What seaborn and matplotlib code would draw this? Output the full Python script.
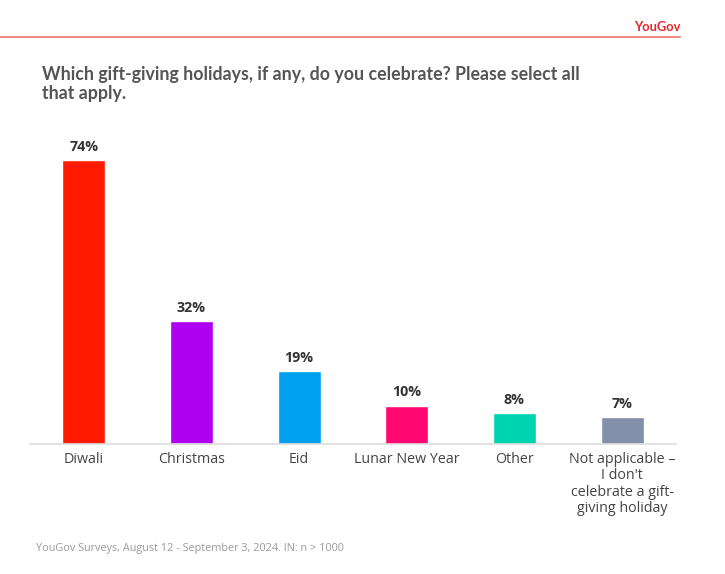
import matplotlib
matplotlib.use("Agg")
import matplotlib.pyplot as plt
import seaborn as sns
import pandas as pd

categories = ["Diwali", "Christmas", "Eid", "Lunar New Year", "Other",
              "Not applicable –\nI don't\ncelebrate a gift-\ngiving holiday"]
values = [74, 32, 19, 10, 8, 7]
colors = ["#FF1A00", "#B000F2", "#00A0F0", "#FF0872", "#00D4AE", "#8290AC"]

sns.set_theme(style="white")
plt.rcParams['font.family'] = ['Open Sans', 'DejaVu Sans']

df = pd.DataFrame({"cat": categories, "val": values})

W, H = 725, 574
fig = plt.figure(figsize=(W / 100, H / 100), dpi=100)
ax = fig.add_axes([30 / W, 1 - 444 / H, (676 - 30) / W, (444 - 130) / H])

sns.barplot(data=df, x="cat", y="val", hue="cat", palette=colors,
            width=0.4, ax=ax, legend=False, saturation=1)

ax.set_xlim(-0.5, len(categories) - 0.5)
ax.set_ylim(0, 314 / 3.84)
ax.set_xlabel("")
ax.set_ylabel("")
ax.set_yticks([])
for s in ["top", "right", "left"]:
    ax.spines[s].set_visible(False)
ax.spines["bottom"].set_color("#DDDDDD")
ax.spines["bottom"].set_linewidth(1.2)
ax.tick_params(axis="x", length=0, pad=6, labelsize=10.3, labelcolor="#444444")
for lbl in ax.get_xticklabels():
    lbl.set_linespacing(1.1)

for i, v in enumerate(values):
    ax.text(i, v + 1.6, f"{v}%", ha="center", va="bottom", fontsize=10.3,
            fontweight="bold", color="#333333")

# header
fig.text(634 / W, 1 - 27 / H, "YouGov", fontsize=9.3, fontweight="bold",
         color="#E8262B", ha="left", va="center", family=['Lato', 'DejaVu Sans'])
fig.add_artist(plt.Line2D([0, 680 / W], [1 - 37 / H, 1 - 37 / H],
                          color="#F28A86", linewidth=1.5))

fig.text(42 / W, 1 - 84 / H,
         "Which gift-giving holidays, if any, do you celebrate? Please select all\nthat apply.",
         fontsize=12.8, fontweight="bold", color="#555555", ha="left", va="center",
         linespacing=1.2, family=['Lato', 'DejaVu Sans'])
fig.text(36 / W, 1 - 548 / H,
         "YouGov Surveys, August 12 - September 3, 2024. IN: n > 1000",
         fontsize=7.8, color="#9A9A9A", ha="left", va="center")

fig.savefig("out.png", dpi=100, facecolor="white")
